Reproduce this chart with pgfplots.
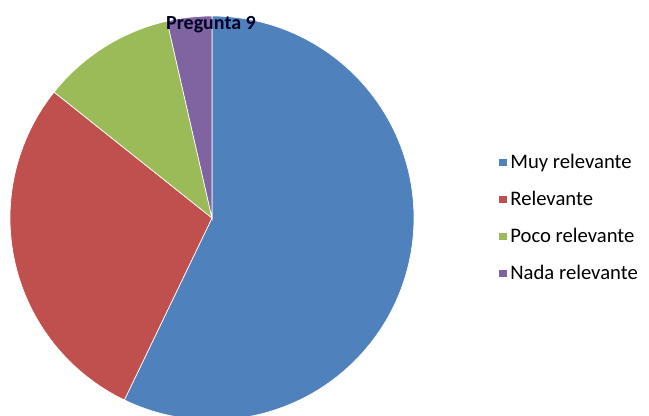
\documentclass[border=0pt]{standalone}
\usepackage{pgfplots}
\pgfplotsset{compat=1.18}
\usepackage{fontspec}
\setmainfont{Carlito}
\definecolor{cblue}{HTML}{4F81BD}
\definecolor{cred}{HTML}{C0504D}
\definecolor{cgreen}{HTML}{9BBB59}
\definecolor{cpurple}{HTML}{8064A2}
% values: Muy relevante, Relevante, Poco relevante, Nada relevante
\def\va{16}\def\vb{8}\def\vc{3}\def\vd{1}
\pgfmathsetmacro{\tot}{\va+\vb+\vc+\vd}
\pgfmathsetmacro{\aA}{90}
\pgfmathsetmacro{\aB}{\aA-360*\va/\tot}
\pgfmathsetmacro{\aC}{\aB-360*\vb/\tot}
\pgfmathsetmacro{\aD}{\aC-360*\vc/\tot}
\pgfmathsetmacro{\aE}{\aD-360*\vd/\tot}
\begin{document}
\begin{tikzpicture}
\path[use as bounding box] (0,0) rectangle (486.75pt,311.25pt);
\begin{axis}[
  at={(159pt,147.75pt)}, anchor=origin,
  x=151.5pt, y=151.5pt,
  xmin=-1, xmax=1, ymin=-1, ymax=1,
  hide axis, clip=false,
  legend style={draw=none, fill=none, at={(1.198,0.672)}, anchor=north west,
    font=\fontsize{15.5}{18}\selectfont, row sep=11.5pt, cells={anchor=west}},
  legend image code/.code={\fill[#1] (-3pt,-3.3pt) rectangle (3.6pt,3.3pt);},
]
\addplot[fill=cblue, draw=white, line width=0.5pt, domain=\aA:\aB, samples=120] ({cos(x)},{sin(x)}) -- (axis cs:0,0) -- cycle;
\addlegendentry{Muy relevante}
\addplot[fill=cred, draw=white, line width=0.5pt, domain=\aB:\aC, samples=80] ({cos(x)},{sin(x)}) -- (axis cs:0,0) -- cycle;
\addlegendentry{Relevante}
\addplot[fill=cgreen, draw=white, line width=0.5pt, domain=\aC:\aD, samples=40] ({cos(x)},{sin(x)}) -- (axis cs:0,0) -- cycle;
\addlegendentry{Poco relevante}
\addplot[fill=cpurple, draw=white, line width=0.5pt, domain=\aD:\aE, samples=20] ({cos(x)},{sin(x)}) -- (axis cs:0,0) -- cycle;
\addlegendentry{Nada relevante}
\node[font=\fontsize{15}{18}\selectfont\bfseries, text=black!85!blue] at (axis cs:-0.005,0.955) {Pregunta 9};
\end{axis}
\end{tikzpicture}
\end{document}
